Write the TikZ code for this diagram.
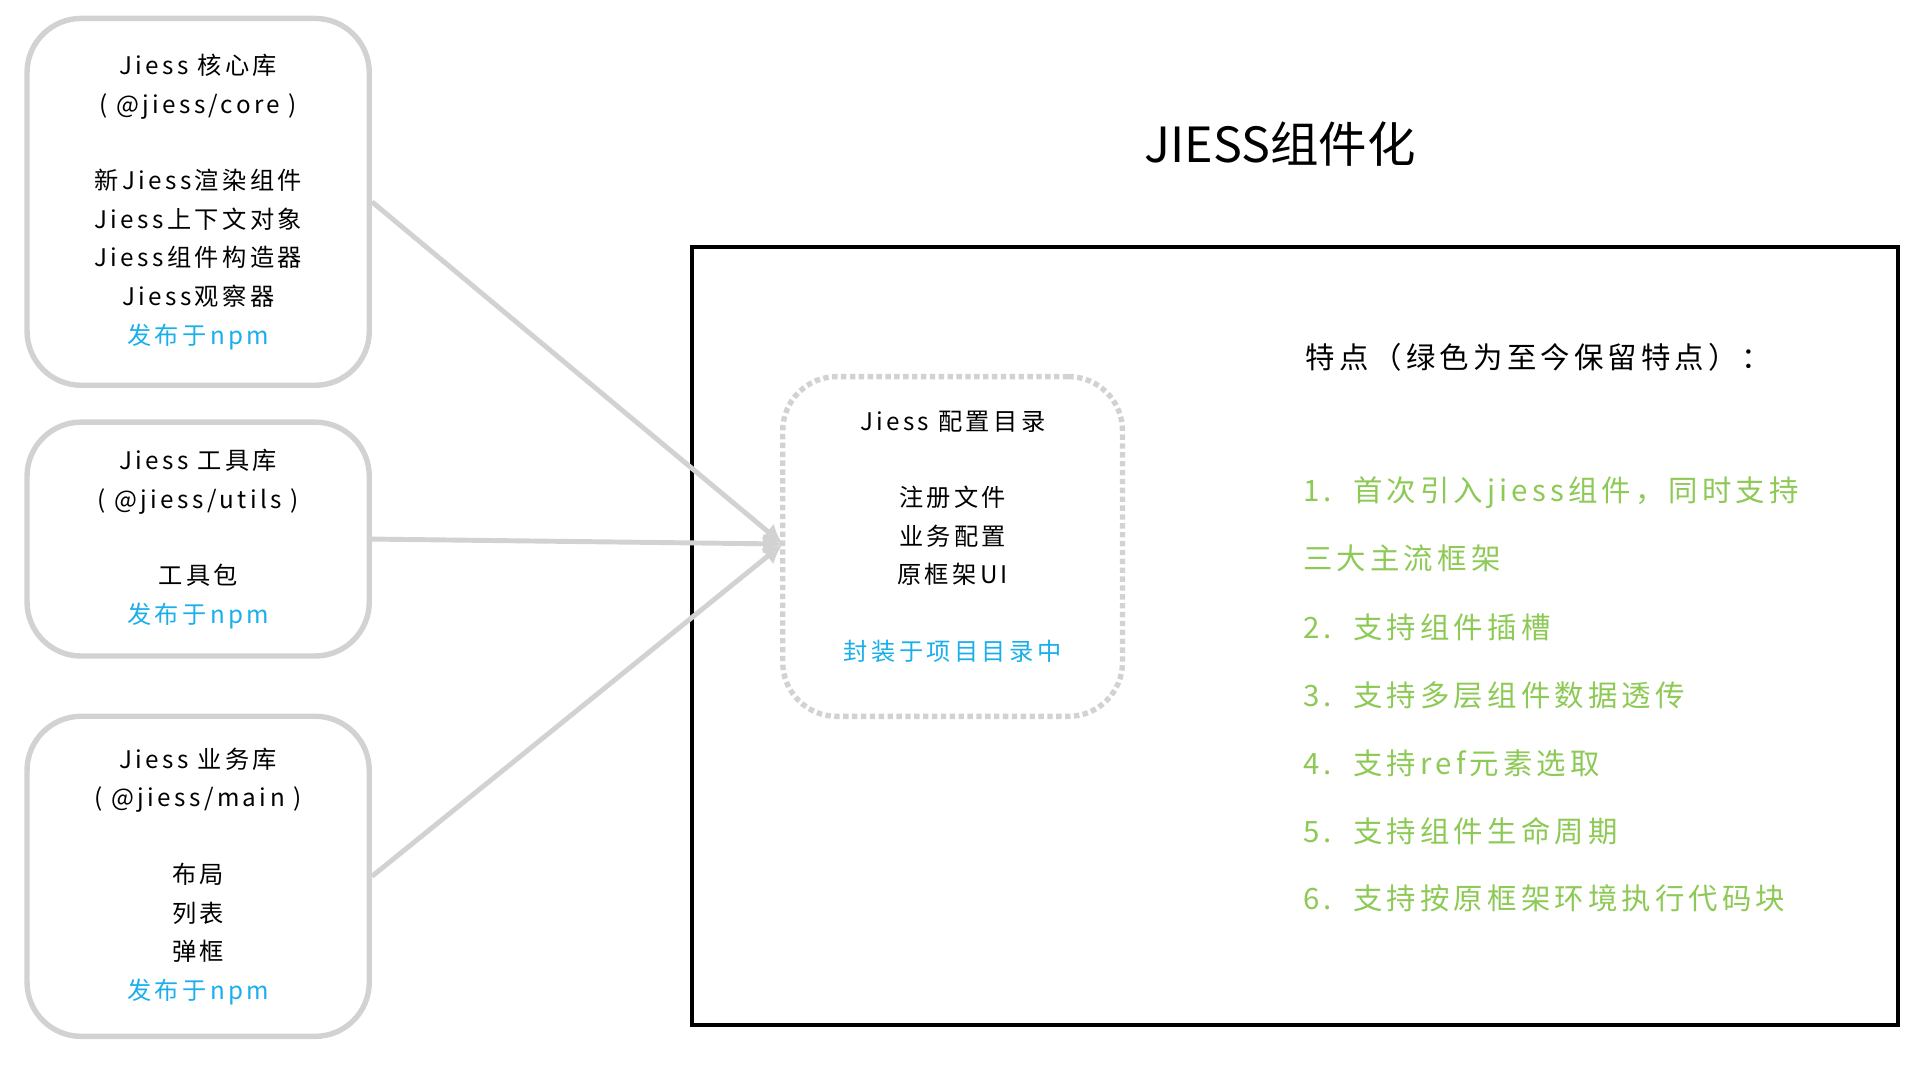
\documentclass[tikz,border=0pt]{standalone}
\usepackage{fontspec}
\setmainfont{Noto Sans CJK SC}
\newfontfamily\widefont[LetterSpace=14]{Noto Sans CJK SC}
\usetikzlibrary{positioning,arrows.meta}
\definecolor{npmblue}{HTML}{1AAEEA}
\definecolor{keepgreen}{HTML}{8DC955}
\definecolor{boxgray}{HTML}{D2D2D2}
\tikzset{
    lib box/.style={draw=boxgray,line width=1.1mm,rounded corners=1.1cm,
        minimum width=6.95cm,align=center,font=\widefont\fontsize{14}{22.3}\selectfont},
    config box/.style={draw=boxgray,line width=1.1mm,dotted,rounded corners=1.1cm,
        minimum width=6.9cm,minimum height=6.9cm,align=center,
        font=\widefont\fontsize{14}{22.3}\selectfont},
    link/.style={draw=boxgray,line width=1mm,-{Latex[length=4mm,width=4mm]}},
    feature/.style={anchor=west,text=keepgreen,font=\widefont\fontsize{17}{20}\selectfont}
}
\begin{document}
\begin{tikzpicture}[x=0.025cm,y=-0.025cm]
    \useasboundingbox (0,0) rectangle (1560,868);
    %
    \node[lib box,minimum height=7.45cm] (core) at (161,164)
        {Jiess 核心库\\( @jiess/core )\\[22pt]新Jiess渲染组件\\Jiess上下文对象\\
         Jiess组件构造器\\Jiess观察器\\\textcolor{npmblue}{发布于npm}};
    \node[lib box,minimum height=4.75cm] (utils) at (161,438)
        {Jiess 工具库\\( @jiess/utils )\\[22pt]工具包\\\textcolor{npmblue}{发布于npm}};
    \node[lib box,minimum height=6.5cm] (main) at (161,712)
        {Jiess 业务库\\( @jiess/main )\\[22pt]布局\\列表\\弹框\\\textcolor{npmblue}{发布于npm}};
    %
    \draw[line width=0.8mm] (562,201) rectangle (1542,833);
    \node[font=\fontsize{28}{30}\selectfont] (title) at (1040,117) {JIESS组件化};
    %
    \node[config box] (config) at (774,444) {};
    \node[align=center,font=\widefont\fontsize{14}{22.3}\selectfont] (configtext) at (774,436)
        {Jiess 配置目录\\[22pt]注册文件\\业务配置\\原框架UI\\[22pt]
         \textcolor{npmblue}{封装于项目目录中}};
    %
    \coordinate (hit) at (636,442);
    \draw[link] (core.east) -- (hit);
    \draw[link] (utils.east) -- (hit);
    \draw[link] (main.east) -- (hit);
    %
    \node[anchor=west,font=\widefont\fontsize{17}{20}\selectfont] (points) at (1056,290)
        {特点（绿色为至今保留特点）：};
    \node[feature] (f1) at (1054,400) {1.\ \ 首次引入jiess组件，同时支持};
    \node[feature] (f1b) at (1054,454) {三大主流框架};
    \node[feature] (f2) at (1054,510) {2.\ \ 支持组件插槽};
    \node[feature] (f3) at (1054,565) {3.\ \ 支持多层组件数据透传};
    \node[feature] (f4) at (1054,620) {4.\ \ 支持ref元素选取};
    \node[feature] (f5) at (1054,675) {5.\ \ 支持组件生命周期};
    \node[feature] (f6) at (1054,730) {6.\ \ 支持按原框架环境执行代码块};
\end{tikzpicture}
\end{document}
